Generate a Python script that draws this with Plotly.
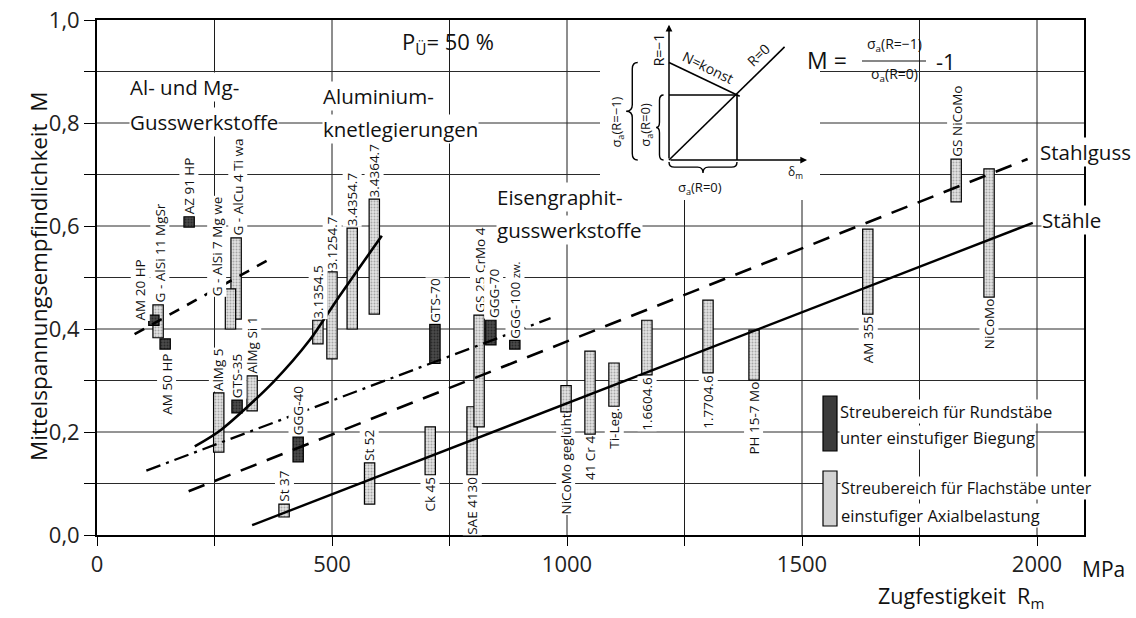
import plotly.graph_objects as go

# ---------------- data ----------------
materials = ["AM 20 HP", "G - AlSi 11 MgSr", "AM 50 HP", "AZ 91 HP", "G - AlCu 4 Ti wa",
             "G - AlSi 7 Mg we", "AlMg 5", "GTS-35", "AlMg Si 1", "GGG-40", "St 37", "St 52",
             "3.1354.5", "3.1254.7", "3.4354.7", "3.4364.7", "GTS-70", "Ck 45", "SAE 4130",
             "GS 25 CrMo 4", "GGG-70", "GGG-100 zw.", "NiCoMo geglüht", "41 Cr 4", "Ti-Leg.",
             "1.6604.6", "1.7704.6", "PH 15-7 Mo", "AM 355", "NiCoMo", "GS NiCoMo"]
rm_mpa = [121, 130, 145, 196, 296, 284, 259, 298, 330, 428, 398, 580,
          470, 500, 543, 590, 719, 709, 798, 813, 838, 889, 998, 1049, 1100,
          1170, 1300, 1398, 1640, 1898, 1828]
m_min = [0.407, 0.383, 0.361, 0.598, 0.419, 0.400, 0.161, 0.237, 0.241, 0.142, 0.035, 0.060,
         0.371, 0.342, 0.400, 0.429, 0.333, 0.117, 0.117, 0.210, 0.369, 0.361, 0.239, 0.196,
         0.250, 0.311, 0.315, 0.301, 0.429, 0.462, 0.647]
m_max = [0.427, 0.447, 0.381, 0.618, 0.577, 0.478, 0.276, 0.262, 0.309, 0.190, 0.060, 0.140,
         0.417, 0.511, 0.596, 0.652, 0.409, 0.210, 0.249, 0.427, 0.417, 0.378, 0.290, 0.357,
         0.334, 0.417, 0.456, 0.398, 0.594, 0.711, 0.730]
specimen = ["rund", "flach", "rund", "rund", "flach", "flach", "flach", "rund", "flach", "rund",
            "flach", "flach", "flach", "flach", "flach", "flach", "rund", "flach", "flach", "flach",
            "rund", "rund", "flach", "flach", "flach", "flach", "flach", "flach", "flach", "flach",
            "flach"]
label_side = ["oben", "oben", "unten", "oben", "oben", "oben", "oben", "oben", "oben", "oben",
              "oben", "oben", "oben", "oben", "oben", "oben", "oben", "unten", "unten", "oben",
              "oben", "oben", "unten", "unten", "unten", "unten", "unten", "unten", "unten", "unten",
              "oben"]

# trend lines
al_guss_rm = [80, 362]
al_guss_m = [0.390, 0.533]
al_knet_rm = [208, 265, 375, 453, 510, 606]
al_knet_m = [0.172, 0.205, 0.297, 0.379, 0.456, 0.581]
eisen_rm = [105, 965]
eisen_m = [0.125, 0.421]
stahlguss_rm = [195, 1980]
stahlguss_m = [0.085, 0.730]
staehle_rm = [330, 1991]
staehle_m = [0.019, 0.606]

x_ticks = [0, 250, 500, 750, 1000, 1250, 1500, 1750, 2000]
x_ticktext = ["0", "", "500", "", "1000", "", "1500", "", "2000"]
y_ticks = [0.0, 0.1, 0.2, 0.3, 0.4, 0.5, 0.6, 0.7, 0.8, 0.9, 1.0]
y_ticktext = ["0,0", "", "0,2", "", "0,4", "", "0,6", "", "0,8", "", "1,0"]
X_MAX = 2100

# ---------------- geometry helpers (window pixels -> paper) ----------------
W, H = 1136, 618
PL, PR, PT, PB = 97, 1084, 20, 535       # plot area in window pixels


def fx(px):
    return (px - PL) / (PR - PL)


def fy(py):
    return (PB - py) / (PB - PT)


FONT = "Open Sans, DejaVu Sans, sans-serif"
INK = "#111111"

fig = go.Figure()

shapes = []
# grid
for v in x_ticks[1:]:
    shapes.append(dict(type="line", xref="x", yref="y", x0=v, x1=v, y0=0, y1=1,
                       line=dict(color="#1c1c1c", width=1), layer="below"))
for h in y_ticks[1:-1]:
    shapes.append(dict(type="line", xref="x", yref="y", x0=0, x1=X_MAX, y0=h, y1=h,
                       line=dict(color="#2a2a2a", width=1), layer="below"))
# white areas for the inset sketch and the formula
shapes.append(dict(type="rect", xref="paper", yref="paper", x0=fx(610), x1=fx(812),
                   y0=fy(196), y1=fy(21.5), fillcolor="white", line=dict(width=0), layer="below"))
shapes.append(dict(type="rect", xref="paper", yref="paper", x0=fx(812), x1=fx(957),
                   y0=fy(96), y1=fy(21.5), fillcolor="white", line=dict(width=0), layer="below"))

# ---------------- bars (scatter ranges) ----------------
styles = {"flach": ("#e2e2e2", "#6a6a6a"), "rund": ("#4a4a4a", "#0a0a0a")}
for kind in ["flach", "rund"]:
    bg, fg = styles[kind]
    idx = [i for i, s in enumerate(specimen) if s == kind]
    fig.add_trace(go.Bar(
        x=[rm_mpa[i] for i in idx],
        y=[m_max[i] - m_min[i] for i in idx],
        base=[m_min[i] for i in idx],
        width=22,
        marker=dict(color=bg, line=dict(color="black", width=1.2),
                    pattern=dict(shape=".", fgcolor=fg, bgcolor=bg, size=3, solidity=0.35)),
        showlegend=False, hoverinfo="skip"))

# ---------------- trend lines ----------------
fig.add_trace(go.Scatter(x=al_guss_rm, y=al_guss_m, mode="lines",
                         line=dict(color="black", width=2.6, dash="11px,9px"),
                         showlegend=False, hoverinfo="skip"))
fig.add_trace(go.Scatter(x=al_knet_rm, y=al_knet_m, mode="lines",
                         line=dict(color="black", width=2.6, shape="spline", smoothing=0.8),
                         showlegend=False, hoverinfo="skip"))
fig.add_trace(go.Scatter(x=eisen_rm, y=eisen_m, mode="lines",
                         line=dict(color="black", width=2.3, dash="15px,6px,3px,6px"),
                         showlegend=False, hoverinfo="skip"))
fig.add_trace(go.Scatter(x=stahlguss_rm, y=stahlguss_m, mode="lines",
                         line=dict(color="black", width=2.6, dash="17px,11px"),
                         showlegend=False, hoverinfo="skip"))
fig.add_trace(go.Scatter(x=staehle_rm, y=staehle_m, mode="lines",
                         line=dict(color="black", width=2.4),
                         showlegend=False, hoverinfo="skip"))

# ---------------- bar labels ----------------
label_shift = {"AM 20 HP": (-14, 7), "G - AlSi 11 MgSr": (2, 0), "AM 50 HP": (1, 3),
               "G - AlSi 7 Mg we": (-14, 9), "G - AlCu 4 Ti wa": (2, 0), "GGG-70": (3, 0)}
annotations = []
for i, name in enumerate(materials):
    above = label_side[i] == "oben"
    dx, dy = label_shift.get(name, (0, 0))
    txt = name
    if name == "GGG-100 zw.":
        txt = "GGG-100 <span style='font-size:11px'>zw.</span>"
    annotations.append(dict(
        x=rm_mpa[i], y=m_max[i] if above else m_min[i], xref="x", yref="y",
        text=txt, textangle=-90, showarrow=False, xanchor="center",
        yanchor="bottom" if above else "top", xshift=dx, yshift=-dy + (1 if above else -1),
        font=dict(size=13.5, family=FONT, color=INK), bgcolor="white", borderpad=0))


def ptext(text, x, y, size, xanchor="left", yanchor="middle", angle=0, bg="white"):
    annotations.append(dict(x=fx(x), y=fy(y), xref="paper", yref="paper", text=text,
                            showarrow=False, xanchor=xanchor, yanchor=yanchor, textangle=angle,
                            font=dict(size=size, family=FONT, color=INK),
                            bgcolor=bg, borderpad=0))


# group names
ptext("Al- und Mg-", 129, 87, 20.5)
ptext("Gusswerkstoffe", 129, 122, 20.5)
ptext("Aluminium-", 322, 96, 20.5)
ptext("knetlegierungen", 322, 129, 20.5)
ptext("Eisengraphit-", 496, 197, 20.5)
ptext("gusswerkstoffe", 496, 230, 20.5)
ptext("Stahlguss", 1039, 152, 20.5)
ptext("Stähle", 1041, 220, 20.5)
ptext("P<sub>Ü</sub>= 50 %", 401, 43, 22, bg=None)

# formula
ptext("M =", 806, 60, 23, bg=None)
ptext("σ<sub>a</sub>(R=−1)", 894, 44, 14, xanchor="center", bg=None)
ptext("σ<sub>a</sub>(R=0)", 894, 75, 14, xanchor="center", bg=None)
ptext("-1", 935, 61, 22, bg=None)
shapes.append(dict(type="line", xref="paper", yref="paper", x0=fx(862), x1=fx(926),
                   y0=fy(61), y1=fy(61), line=dict(color=INK, width=1.2)))

# legend
shapes.append(dict(type="rect", xref="paper", yref="paper", x0=fx(823), x1=fx(837),
                   y0=fy(451), y1=fy(396), fillcolor="#3c3c3c", line=dict(color="black", width=1.2)))
shapes.append(dict(type="rect", xref="paper", yref="paper", x0=fx(823), x1=fx(837),
                   y0=fy(526), y1=fy(471), fillcolor="#d2d2d2", line=dict(color="black", width=1.2)))
ptext("Streubereich für Rundstäbe", 839, 411, 16.5)
ptext("unter einstufiger Biegung", 839, 437, 16.5)
ptext("Streubereich für Flachstäbe unter", 840, 488, 16)
ptext("einstufiger Axialbelastung", 840, 515, 16.5)

# axis titles
ptext("Mittelspannungsempfindlichkeit  M", 38, 277, 22.5, xanchor="center", angle=-90, bg=None)
ptext("Zugfestigkeit  R<sub>m</sub>", 877, 597, 21.5, bg=None)
ptext("MPa", 1081, 569, 21, bg=None)

# ---------------- inset sketch (own schematic axes) ----------------
OX, OY, UX, UY = 669, 160, 68, 65          # origin and unit size in window pixels
ix0, ix1, iy0, iy1 = 600, 820, 200, 20      # inset window in window pixels
x2_range = [(ix0 - OX) / UX, (ix1 - OX) / UX]
y2_range = [(OY - iy0) / UY, (OY - iy1) / UY]

sketch_r0 = ([0, 1.7], [0, 1.74])
sketch_nk = ([0, 1.04], [1.5, 0.98])
sketch_sq = ([0, 1, 1], [1, 1, 0])
for xs, ys in [sketch_r0, sketch_nk, sketch_sq]:
    fig.add_trace(go.Scatter(x=xs, y=ys, xaxis="x2", yaxis="y2", mode="lines",
                             line=dict(color="black", width=1.6), showlegend=False,
                             hoverinfo="skip"))

for (xe, ye) in [(0, 2.08), (2.03, 0)]:
    annotations.append(dict(x=xe, y=ye, ax=0, ay=0, xref="x2", yref="y2", axref="x2",
                            ayref="y2", text="", showarrow=True, arrowhead=2, arrowsize=0.9,
                            arrowwidth=1.5, arrowcolor="black"))


def vbrace(x_tip, x_spine, x_end, y0, y1, d):
    m = (y0 + y1) / 2
    return (f"M {x_end},{y1} Q {x_spine},{y1} {x_spine},{y1 - d} L {x_spine},{m + d} "
            f"Q {x_spine},{m} {x_tip},{m} Q {x_spine},{m} {x_spine},{m - d} "
            f"L {x_spine},{y0 + d} Q {x_spine},{y0} {x_end},{y0}")


def hbrace(y_tip, y_spine, y_end, x0, x1, d):
    m = (x0 + x1) / 2
    return (f"M {x0},{y_end} Q {x0},{y_spine} {x0 + d},{y_spine} L {m - d},{y_spine} "
            f"Q {m},{y_spine} {m},{y_tip} Q {m},{y_spine} {m + d},{y_spine} "
            f"L {x1 - d},{y_spine} Q {x1},{y_spine} {x1},{y_end}")


for path in [vbrace(-0.63, -0.54, -0.46, 0.0, 1.5, 0.1),
             vbrace(-0.19, -0.14, -0.08, 0.0, 1.0, 0.08),
             hbrace(-0.2, -0.11, -0.03, 0.0, 1.0, 0.08)]:
    shapes.append(dict(type="path", xref="x2", yref="y2", path=path,
                       line=dict(color="black", width=1.4)))


def itext(text, x, y, size, angle=0):
    annotations.append(dict(x=x, y=y, xref="x2", yref="y2", text=text, showarrow=False,
                            textangle=angle, font=dict(size=size, family=FONT, color=INK)))


itext("R=−1", -0.15, 1.70, 14, -90)
itext("N=konst", 0.58, 1.43, 14, 26)
itext("R=0", 1.32, 1.62, 14, -44)
itext("σ<sub>a</sub>(R=−1)", -0.76, 0.58, 13, -90)
itext("σ<sub>a</sub>(R=0)", -0.34, 0.54, 13, -90)
itext("σ<sub>a</sub>(R=0)", 0.46, -0.43, 13)
itext("δ<sub>m</sub>", 1.86, -0.19, 12)

# ---------------- layout ----------------
fig.update_layout(
    width=W, height=H,
    margin=dict(l=PL, r=W - PR, t=PT, b=H - PB, autoexpand=False),
    paper_bgcolor="white", plot_bgcolor="white",
    barmode="overlay", showlegend=False,
    font=dict(family=FONT, color=INK),
    xaxis=dict(range=[0, X_MAX], tickvals=x_ticks, ticktext=x_ticktext, ticks="outside",
               ticklen=9, tickwidth=1.3, tickcolor="black", showgrid=False, zeroline=False,
               showline=True, linecolor="black", linewidth=1.8, mirror=True, automargin=False,
               ticklabeloverflow="allow",
               tickfont=dict(size=22, family=FONT, color="#222")),
    yaxis=dict(range=[0, 1], tickvals=y_ticks, ticktext=y_ticktext, ticks="outside",
               ticklen=11, tickwidth=1.3, tickcolor="black", showgrid=False, zeroline=False,
               showline=True, linecolor="black", linewidth=1.8, mirror=True, automargin=False,
               ticklabeloverflow="allow",
               tickfont=dict(size=22, family=FONT, color="#222")),
    xaxis2=dict(range=x2_range, domain=[fx(ix0), fx(ix1)], anchor="y2", visible=False,
                fixedrange=True),
    yaxis2=dict(range=y2_range, domain=[fy(iy0), fy(iy1)], anchor="x2", visible=False,
                fixedrange=True),
    shapes=shapes,
    annotations=annotations,
)

fig.write_html("out.html", config={"displayModeBar": False},
               post_script="document.body.style.margin='0px';")
